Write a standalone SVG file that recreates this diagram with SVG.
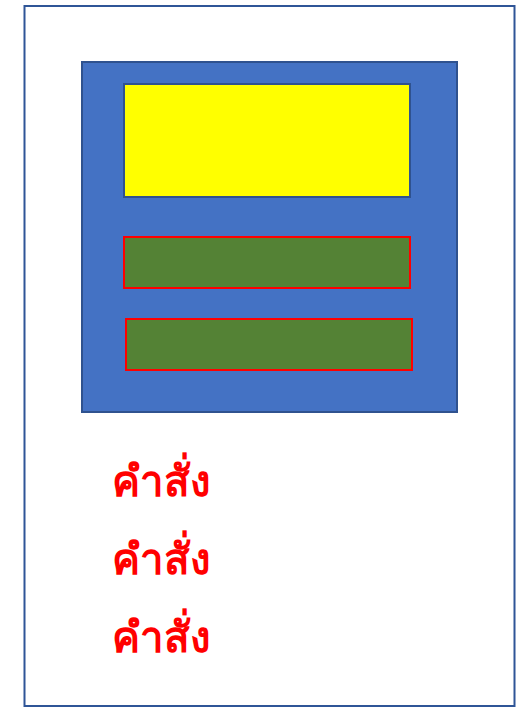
<svg xmlns="http://www.w3.org/2000/svg" width="524" height="707" viewBox="0 0 524 707">
<style>
.t{font-family:"Noto Sans","DejaVu Sans",sans-serif;font-weight:bold;font-size:42px;fill:#FF0000}
.g{fill:#548235;stroke:#FF0000;stroke-width:2}
</style>
<rect width="524" height="707" fill="#FFFFFF"/>
<g id="frame"><rect x="24.5" y="6" width="490" height="700" fill="#FFFFFF" stroke="#2F5597" stroke-width="2"/></g>
<g id="panel"><rect x="82" y="62" width="375" height="350" fill="#4472C4" stroke="#2F528F" stroke-width="2"/></g>
<g id="yellow"><rect x="124" y="84" width="286" height="113" fill="#FFFF00" stroke="#2F528F" stroke-width="2"/></g>
<g id="green1"><rect class="g" x="124" y="237" width="286" height="51"/></g>
<g id="green2"><rect class="g" x="126" y="319" width="286" height="51"/></g>
<g id="labels">
<text class="t" x="112" y="496">คำสั่ง</text>
<text class="t" x="112" y="574">คำสั่ง</text>
<text class="t" x="112" y="652">คำสั่ง</text>
</g>
</svg>
